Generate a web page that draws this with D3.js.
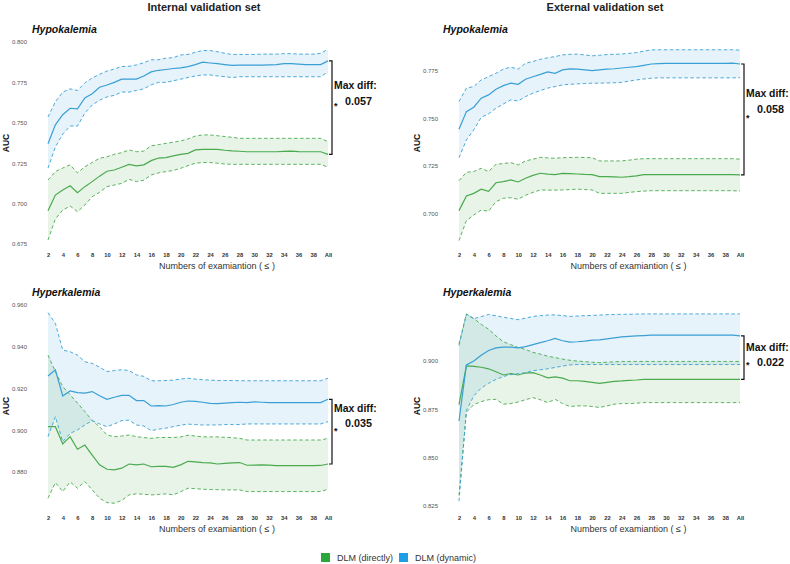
<!DOCTYPE html>
<html><head><meta charset="utf-8">
<script src="https://cdn.jsdelivr.net/npm/d3@7"></script>
<style>
body{margin:0;background:#fff;}
svg{display:block;font-family:"Liberation Sans",Arial,Helvetica,sans-serif;}
</style>
</head><body>
<svg id="chart" width="790" height="564"></svg>
<script>
// ---------- categories / ticks ----------
const exams = ["2","3","4","5","6","7","8","9","10","11","12","13","14","15","16","17","18","19","20","21","22","23","24","25","26","27","28","29","30","31","32","33","34","35","36","37","38","39","All"];
const xTickLabels = ["2","4","6","8","10","12","14","16","18","20","22","24","26","28","30","32","34","36","38","All"];
const columnTitles = ["Internal validation set","External validation set"];
const seriesNames = ["DLM (directly)","DLM (dynamic)"];
const xAxisTitle = "Numbers of examiantion ( \u2264 )";

// ---------- Internal / Hypokalemia ----------
const intHypoTicks = [0.675,0.700,0.725,0.750,0.775,0.800];
const intHypoDynamic = [0.737,0.7487,0.755,0.759,0.7586,0.7654,0.768,0.772,0.7734,0.775,0.777,0.777,0.777,0.779,0.7815,0.7825,0.783,0.7836,0.784,0.7848,0.786,0.7875,0.787,0.7866,0.786,0.7855,0.7857,0.7857,0.7857,0.7857,0.7858,0.786,0.7866,0.7866,0.7863,0.786,0.786,0.786,0.7883];
const intHypoDynamicHi = [0.7536,0.763,0.769,0.771,0.770,0.7747,0.7777,0.780,0.782,0.7833,0.7848,0.785,0.7858,0.7872,0.789,0.789,0.790,0.7903,0.792,0.7923,0.7937,0.7947,0.7947,0.794,0.793,0.7923,0.7923,0.7923,0.7923,0.7925,0.7925,0.7925,0.7928,0.7928,0.7925,0.7925,0.7925,0.793,0.7955];
const intHypoDynamicLo = [0.722,0.735,0.743,0.748,0.748,0.756,0.761,0.764,0.766,0.767,0.769,0.769,0.770,0.771,0.7735,0.775,0.775,0.776,0.777,0.778,0.779,0.7796,0.7796,0.779,0.7785,0.778,0.7785,0.7785,0.7785,0.7785,0.7785,0.7785,0.7785,0.7785,0.7785,0.7785,0.7785,0.7785,0.7815];
const intHypoDirect = [0.6956,0.7053,0.7084,0.711,0.7068,0.7105,0.7136,0.717,0.720,0.7208,0.7225,0.7243,0.7233,0.724,0.7266,0.7282,0.7285,0.7295,0.7305,0.7311,0.7332,0.7336,0.7336,0.7336,0.733,0.7326,0.7324,0.7321,0.7321,0.7321,0.7321,0.7321,0.7323,0.7325,0.7322,0.7321,0.7321,0.7321,0.7305];
const intHypoDirectHi = [0.7146,0.7198,0.722,0.724,0.719,0.7228,0.7255,0.728,0.729,0.7305,0.7315,0.7332,0.7321,0.7325,0.7357,0.7365,0.7373,0.738,0.7388,0.740,0.7418,0.7425,0.7425,0.742,0.7415,0.741,0.7404,0.7404,0.7404,0.7404,0.7404,0.7404,0.7404,0.7404,0.7404,0.7404,0.7404,0.7404,0.7383];
const intHypoDirectLo = [0.6775,0.6905,0.696,0.6985,0.695,0.6991,0.7043,0.707,0.7105,0.7115,0.7125,0.715,0.7136,0.7145,0.7177,0.719,0.7198,0.7205,0.7218,0.7235,0.725,0.7254,0.7254,0.725,0.7245,0.7243,0.7243,0.7243,0.7243,0.7243,0.7243,0.7243,0.7243,0.7243,0.7243,0.7243,0.7243,0.7243,0.7225];

// ---------- External / Hypokalemia ----------
const extHypoTicks = [0.700,0.725,0.750,0.775];
const extHypoDynamic = [0.7443,0.7536,0.7559,0.7607,0.7624,0.7654,0.7673,0.7686,0.768,0.7707,0.772,0.7732,0.7745,0.7738,0.7756,0.7761,0.776,0.7756,0.7752,0.7756,0.776,0.7762,0.7766,0.777,0.7773,0.778,0.7787,0.7789,0.779,0.779,0.779,0.779,0.779,0.779,0.779,0.779,0.779,0.7792,0.7787];
const extHypoDynamicHi = [0.7589,0.766,0.7668,0.7703,0.772,0.7738,0.776,0.777,0.776,0.7791,0.780,0.7812,0.782,0.7826,0.7835,0.7838,0.7839,0.7835,0.783,0.7833,0.7837,0.7838,0.784,0.7843,0.7847,0.7855,0.7861,0.7862,0.7862,0.7862,0.7862,0.7862,0.7862,0.7862,0.7862,0.7862,0.7862,0.7862,0.786];
const extHypoDynamicLo = [0.7293,0.7387,0.744,0.7506,0.7524,0.7554,0.7576,0.7598,0.7592,0.7615,0.7633,0.7647,0.766,0.7668,0.7677,0.768,0.7682,0.7684,0.7686,0.7686,0.7687,0.7688,0.769,0.7697,0.7703,0.7708,0.7712,0.7714,0.7714,0.7714,0.7714,0.7714,0.7714,0.7714,0.7714,0.7714,0.7714,0.7714,0.7715];
const extHypoDirect = [0.7014,0.7091,0.7105,0.7127,0.7116,0.7161,0.7167,0.7176,0.7165,0.7185,0.72,0.7211,0.7206,0.7204,0.721,0.7209,0.7207,0.7205,0.7204,0.7193,0.7193,0.7192,0.719,0.7193,0.7197,0.7204,0.7204,0.7204,0.7204,0.7204,0.7204,0.7204,0.7204,0.7204,0.7204,0.7204,0.7204,0.7204,0.7202];
const extHypoDirectHi = [0.7172,0.7216,0.722,0.7237,0.722,0.7258,0.7262,0.7267,0.7255,0.7276,0.7285,0.7295,0.7292,0.729,0.7293,0.7294,0.7295,0.7294,0.7293,0.7276,0.7276,0.7276,0.7276,0.728,0.7285,0.7288,0.7288,0.7288,0.7288,0.7288,0.7288,0.7288,0.7288,0.7288,0.7288,0.7288,0.7288,0.7288,0.7285];
const extHypoDirectLo = [0.6856,0.6961,0.6991,0.7017,0.7011,0.7061,0.7079,0.7082,0.7074,0.7095,0.711,0.7123,0.7122,0.7122,0.7123,0.7125,0.7127,0.7125,0.7123,0.7105,0.7105,0.7105,0.7105,0.711,0.7114,0.7117,0.7119,0.7119,0.7119,0.7119,0.7119,0.7119,0.7119,0.7119,0.7119,0.7119,0.7119,0.7119,0.7117];

// ---------- Internal / Hyperkalemia ----------
const intHyperTicks = [0.880,0.900,0.920,0.940,0.960];
const intHyperDynamic = [0.926,0.9289,0.9164,0.9188,0.918,0.9178,0.9185,0.9165,0.9148,0.9158,0.9167,0.9167,0.9142,0.9142,0.9116,0.9118,0.9116,0.9123,0.9134,0.914,0.9138,0.9134,0.9129,0.9127,0.913,0.9132,0.9134,0.9132,0.9136,0.9134,0.9132,0.9132,0.9132,0.9132,0.9132,0.9132,0.9132,0.9132,0.9148];
const intHyperDynamicHi = [0.9563,0.9512,0.9384,0.9376,0.936,0.9328,0.932,0.9302,0.9281,0.9286,0.929,0.9286,0.9265,0.9258,0.9237,0.9237,0.9238,0.924,0.9245,0.9249,0.9245,0.9242,0.924,0.9238,0.9238,0.9238,0.9237,0.9237,0.9237,0.9237,0.9237,0.9237,0.9237,0.9237,0.9237,0.9237,0.9237,0.9237,0.9249];
const intHyperDynamicLo = [0.8969,0.9065,0.8945,0.8985,0.9001,0.9025,0.9046,0.903,0.9017,0.903,0.9046,0.9048,0.9025,0.902,0.8998,0.9005,0.901,0.9017,0.9024,0.9029,0.9027,0.9025,0.9025,0.9025,0.9027,0.9027,0.9027,0.903,0.903,0.903,0.903,0.903,0.903,0.903,0.903,0.903,0.903,0.903,0.9041];
const intHyperDirect = [0.9017,0.9017,0.8934,0.8969,0.8909,0.8929,0.8881,0.8834,0.8813,0.881,0.8818,0.8838,0.8834,0.8838,0.8825,0.8827,0.8827,0.8822,0.8834,0.8851,0.8848,0.8845,0.8843,0.8838,0.8841,0.8843,0.8845,0.8832,0.8833,0.8834,0.8833,0.883,0.883,0.883,0.883,0.883,0.883,0.8831,0.8838];
const intHyperDirectHi = [0.936,0.928,0.9209,0.917,0.913,0.909,0.9045,0.9017,0.8977,0.8969,0.8972,0.8977,0.8969,0.8965,0.8961,0.8965,0.8965,0.8965,0.8968,0.8976,0.8972,0.8968,0.8968,0.8968,0.8966,0.8964,0.8961,0.8953,0.8953,0.8953,0.8953,0.8953,0.8953,0.8953,0.8953,0.8953,0.8953,0.8953,0.8961];
const intHyperDirectLo = [0.8674,0.8749,0.8706,0.8752,0.8722,0.8754,0.8714,0.8674,0.8653,0.865,0.8663,0.869,0.8695,0.8693,0.869,0.8692,0.8695,0.869,0.8705,0.8722,0.872,0.8717,0.8716,0.8715,0.8714,0.8714,0.8714,0.8706,0.8706,0.8706,0.8706,0.8706,0.8706,0.8706,0.8706,0.8706,0.8706,0.8706,0.8717];

// ---------- External / Hyperkalemia ----------
const extHyperTicks = [0.825,0.850,0.875,0.900];
const extHyperDynamic = [0.869,0.898,0.900,0.903,0.9055,0.9068,0.9072,0.9072,0.9068,0.9075,0.9085,0.9095,0.9105,0.9117,0.9105,0.9098,0.910,0.9103,0.9108,0.911,0.9115,0.912,0.9125,0.9128,0.913,0.9132,0.9134,0.9134,0.9134,0.9134,0.9134,0.9134,0.9134,0.9134,0.9134,0.9134,0.9134,0.9134,0.913];
const extHyperDynamicHi = [0.908,0.9242,0.9219,0.923,0.9241,0.9234,0.9227,0.922,0.9214,0.9222,0.9231,0.9235,0.9238,0.9239,0.9235,0.9231,0.9233,0.9235,0.9236,0.9238,0.924,0.9241,0.9242,0.9242,0.9243,0.9244,0.9244,0.9244,0.9244,0.9244,0.9244,0.9244,0.9244,0.9244,0.9244,0.9244,0.9244,0.9244,0.9244];
const extHyperDynamicLo = [0.8275,0.8745,0.882,0.886,0.8885,0.8905,0.892,0.893,0.8935,0.894,0.895,0.8955,0.896,0.8967,0.8974,0.898,0.8982,0.8982,0.8982,0.8982,0.8982,0.8982,0.8982,0.8982,0.8982,0.8982,0.8982,0.8982,0.8982,0.8982,0.8982,0.8982,0.8982,0.8982,0.8982,0.8982,0.8982,0.8982,0.8982];
const extHyperDirect = [0.8775,0.8975,0.8972,0.8968,0.896,0.8945,0.8928,0.8935,0.8928,0.8938,0.894,0.8928,0.8913,0.8918,0.8912,0.8898,0.8898,0.8895,0.889,0.8885,0.889,0.8895,0.8897,0.89,0.8902,0.8905,0.8905,0.8905,0.8905,0.8905,0.8905,0.8905,0.8905,0.8905,0.8905,0.8905,0.8905,0.8905,0.8905];
const extHyperDirectHi = [0.909,0.9244,0.922,0.919,0.9165,0.913,0.910,0.9085,0.907,0.906,0.9045,0.9036,0.9025,0.9018,0.901,0.9004,0.900,0.8997,0.8994,0.8992,0.8994,0.8996,0.8998,0.8998,0.8998,0.8998,0.8998,0.8998,0.8998,0.8998,0.8998,0.8998,0.8998,0.8998,0.8998,0.8998,0.8998,0.8998,0.8998];
const extHyperDirectLo = [0.8305,0.8735,0.8775,0.879,0.880,0.8802,0.8777,0.878,0.8788,0.880,0.8811,0.880,0.8785,0.8802,0.878,0.8765,0.8768,0.8768,0.8765,0.876,0.8768,0.8777,0.878,0.878,0.8782,0.8785,0.8785,0.8785,0.8785,0.8785,0.8785,0.8785,0.8785,0.8785,0.8785,0.8785,0.8785,0.8785,0.8785];

const panelTitles = ["Hypokalemia","Hypokalemia","Hyperkalemia","Hyperkalemia"];
const maxDiffs = ["0.057","0.058","0.035","0.022"];

// ---------- layout (positions & styles) ----------
const panels = [
  {x0:48, x1:328, y0:42, y1:244, domain:[0.675,0.800], ticks:intHypoTicks,
   dyn:[intHypoDynamic,intHypoDynamicLo,intHypoDynamicHi], dir:[intHypoDirect,intHypoDirectLo,intHypoDirectHi],
   title:panelTitles[0], diff:maxDiffs[0], labOff:-18.5, starOff:-3},
  {x0:459, x1:740, y0:42, y1:244, domain:[0.6838,0.7903], ticks:extHypoTicks,
   dyn:[extHypoDynamic,extHypoDynamicLo,extHypoDynamicHi], dir:[extHypoDirect,extHypoDirectLo,extHypoDirectHi],
   title:panelTitles[1], diff:maxDiffs[1], labOff:-22, starOff:-2},
  {x0:48, x1:328, y0:305, y1:507, domain:[0.8632,0.960], ticks:intHyperTicks,
   dyn:[intHyperDynamic,intHyperDynamicLo,intHyperDynamicHi], dir:[intHyperDirect,intHyperDirectLo,intHyperDirectHi],
   title:panelTitles[2], diff:maxDiffs[2], labOff:-20, starOff:-2},
  {x0:459, x1:740, y0:305, y1:507, domain:[0.8245,0.929], ticks:extHyperTicks,
   dyn:[extHyperDynamic,extHyperDynamicLo,extHyperDynamicHi], dir:[extHyperDirect,extHyperDirectLo,extHyperDirectHi],
   title:panelTitles[3], diff:maxDiffs[3], labOff:-7, starOff:6}
];
const BLUE = "#3a9fd5", GREEN = "#4aaa4e";
const LEG_GREEN = "#2aa83a", LEG_BLUE = "#1e9ee6";

const svg = d3.select("#chart");

// column titles
svg.append("text").attr("x",204).attr("y",11).attr("text-anchor","middle")
  .attr("font-size",11).attr("font-weight","bold").attr("fill","#222").text(columnTitles[0]);
svg.append("text").attr("x",605).attr("y",11).attr("text-anchor","middle")
  .attr("font-size",11).attr("font-weight","bold").attr("fill","#222").text(columnTitles[1]);

panels.forEach(p => {
  const g = svg.append("g");
  const x = d3.scalePoint().domain(exams).range([p.x0, p.x1]);
  const y = d3.scaleLinear().domain(p.domain).range([p.y1, p.y0]);

  // panel title
  g.append("text").attr("x", p.x0 - 16).attr("y", p.y0 - 9)
    .attr("font-size",10.5).attr("font-weight","bold").attr("font-style","italic")
    .attr("fill","#111").text(p.title);

  // y axis (labels only)
  const ya = d3.axisLeft(y).tickValues(p.ticks).tickFormat(d3.format(".3f")).tickSize(0).tickPadding(0);
  const yg = g.append("g").attr("transform",`translate(${p.x0-21},0)`).call(ya);
  yg.select(".domain").remove();
  yg.selectAll("text").attr("font-size",6).attr("fill","#555").attr("font-family","Liberation Sans, Arial, sans-serif");

  // x axis (labels only)
  const xa = d3.axisBottom(x).tickValues(xTickLabels).tickSize(0).tickPadding(0);
  const xg = g.append("g").attr("transform",`translate(0,${p.y1+9})`).call(xa);
  xg.select(".domain").remove();
  xg.selectAll("text").attr("font-size",5.8).attr("font-weight","bold").attr("fill","#333")
    .attr("font-family","Liberation Sans, Arial, sans-serif");

  // axis titles
  g.append("text").attr("x",(p.x0+p.x1)/2+29).attr("y",p.y1+25).attr("text-anchor","middle")
    .attr("font-size",9).attr("fill","#333").text(xAxisTitle);
  g.append("text").attr("transform",`translate(${p.x0-42},${(p.y0+p.y1)/2}) rotate(-90)`)
    .attr("text-anchor","middle").attr("dominant-baseline","central")
    .attr("font-size",8.5).attr("font-weight","bold").attr("fill","#111").text("AUC");

  const series = [
    {d:p.dir, c:GREEN},
    {d:p.dyn, c:BLUE}
  ];
  // bands
  series.forEach(s => {
    const area = d3.area().x((v,i)=>x(exams[i])).y0((v,i)=>y(s.d[1][i])).y1((v,i)=>y(s.d[2][i]));
    g.append("path").datum(s.d[0]).attr("d",area).attr("fill",s.c).attr("fill-opacity",0.13);
  });
  // dashed bounds and mean lines
  series.forEach(s => {
    const line = d3.line().x((v,i)=>x(exams[i])).y(v=>y(v));
    [s.d[1], s.d[2]].forEach(arr => {
      g.append("path").datum(arr).attr("d",line).attr("fill","none")
        .attr("stroke",s.c).attr("stroke-width",0.9).attr("stroke-dasharray","3.5,2.5");
    });
    g.append("path").datum(s.d[0]).attr("d",line).attr("fill","none")
      .attr("stroke",s.c).attr("stroke-width",1.2);
  });

  // bracket between final values
  const last = exams.length - 1;
  const yt = y(p.dyn[0][last]), yb = y(p.dir[0][last]);
  const bx = p.x1 + 4;
  g.append("path").attr("d",`M${p.x1+1},${yt}H${bx}V${yb}H${p.x1+1}`)
    .attr("fill","none").attr("stroke","#111").attr("stroke-width",1.2);
  const mid = (yt+yb)/2;
  g.append("text").attr("x",bx+2).attr("y",mid + p.starOff + 4).attr("font-size",9).attr("font-weight","bold")
    .attr("fill","#111").text("*");
  g.append("text").attr("x",bx+2).attr("y",mid + p.labOff).attr("font-size",10.4).attr("font-weight","bold")
    .attr("fill","#111").text("Max diff:");
  g.append("text").attr("x",bx+13).attr("y",mid + p.labOff + 15.5).attr("font-size",10.8).attr("font-weight","bold")
    .attr("fill","#111").text(p.diff);
});

// legend
const leg = svg.append("g");
const legItems = [{n:seriesNames[0], c:LEG_GREEN, x:321},{n:seriesNames[1], c:LEG_BLUE, x:399}];
legItems.forEach(it => {
  leg.append("rect").attr("x",it.x).attr("y",553).attr("width",9).attr("height",9).attr("fill",it.c);
  leg.append("text").attr("x",it.x+16).attr("y",561).attr("font-size",9).attr("fill","#333").text(it.n);
});
</script>
</body></html>
